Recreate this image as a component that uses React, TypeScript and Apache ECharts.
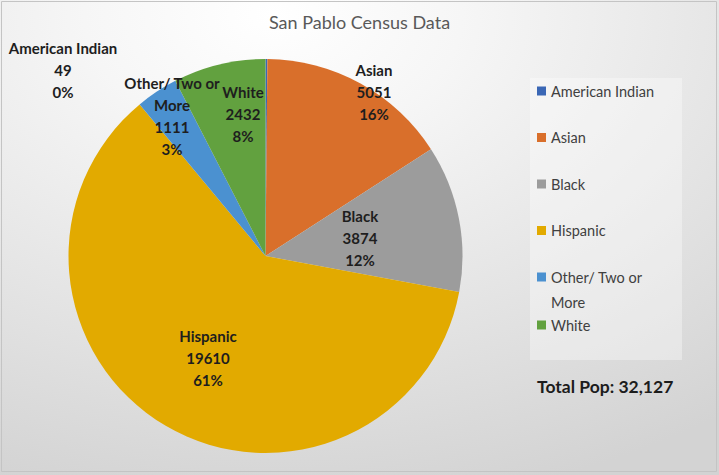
import React, { useEffect, useRef } from "react";
import * as echarts from "echarts";

// ---- data ----
const categories = ["American Indian", "Asian", "Black", "Hispanic", "Other/ Two or More", "White"];
const populations = [49, 5051, 3874, 19610, 1111, 2432];
const chartTitle = "San Pablo Census Data";
const totalLabel = "Total Pop: ";

// ---- styles / layout ----
const sliceColors = ["#3a67b5", "#d96f2b", "#9c9c9c", "#e2aa00", "#4b91d0", "#62a13f"];
const labelCenters = [
  [63, 70],
  [374, 92],
  [360, 238],
  [208, 358],
  [172, 116],
  [243, 114],
];
const FONT = "Lato";
const LEG_LH = 25;

const wrapName = (n: string) => n.replace(" or More", " or\nMore");

export default function App() {
  const ref = useRef<HTMLDivElement>(null);
  useEffect(() => {
    if (!ref.current) return;
    const chart = echarts.init(ref.current, undefined, { renderer: "svg" });
    const total = populations.reduce((a, b) => a + b, 0);
    const legendBase = {
      orient: "vertical" as const,
      left: 537,
      padding: 0,
      icon: "rect",
      itemWidth: 9,
      itemHeight: 9,
      formatter: wrapName,
      textStyle: { fontFamily: FONT, fontSize: 14.5, color: "#404040", lineHeight: LEG_LH },
    };
    chart.setOption({
      animation: false,
      backgroundColor: {
        type: "radial",
        x: 0.38,
        y: 0.03,
        r: 1.05,
        colorStops: [
          { offset: 0, color: "#ffffff" },
          { offset: 0.25, color: "#f6f6f6" },
          { offset: 1, color: "#d3d3d3" },
        ],
      },
      title: [
        {
          text: chartTitle,
          left: "center",
          top: 13,
          padding: 0,
          textStyle: { fontFamily: FONT, fontSize: 18, fontWeight: "normal", color: "#595959" },
        },
        {
          text: totalLabel + total.toLocaleString("en-US"),
          left: 537,
          top: 377,
          padding: 0,
          textStyle: { fontFamily: FONT, fontSize: 17.5, fontWeight: "bold", color: "#1c1c1c" },
        },
      ],
      graphic: [
        {
          type: "rect",
          shape: { x: 530, y: 78, width: 152, height: 282 },
          style: { fill: "rgba(255,255,255,0.35)" },
          silent: true,
          z: -1,
        },
        {
          type: "rect",
          shape: { x: 1.5, y: 1.5, width: 715, height: 470 },
          style: { fill: "none", stroke: "#c4c4c4", lineWidth: 1 },
          silent: true,
        },
      ],
      legend: [
        { ...legendBase, top: 91 - LEG_LH / 2, itemGap: 46.5 - LEG_LH, data: categories.slice(0, 4) },
        {
          ...legendBase,
          top: 277 - LEG_LH * 1.5,
          data: [categories[4]],
          formatter: (n: string) => "\n" + wrapName(n),
        },
        { ...legendBase, top: 325 - LEG_LH / 2, data: [categories[5]] },
      ],
      series: [
        {
          type: "pie",
          center: [265.5, 256],
          radius: [0, 197],
          startAngle: 90,
          clockwise: true,
          percentPrecision: 0,
          avoidLabelOverlap: false,
          itemStyle: { borderWidth: 0 },
          emphasis: { disabled: true },
          labelLine: { show: false },
          label: {
            show: true,
            position: "inside",
            formatter: (p: any) => `${wrapName(p.name)}\n${p.value}\n${p.percent}%`,
            fontFamily: FONT,
            fontSize: 15,
            fontWeight: "bold",
            lineHeight: 22,
            color: "#1e1e1e",
          },
          labelLayout: (p: any) => ({
            x: labelCenters[p.dataIndex][0],
            y: labelCenters[p.dataIndex][1],
            align: "center",
            verticalAlign: "middle",
          }),
          data: categories.map((name, i) => ({
            name,
            value: populations[i],
            itemStyle: { color: sliceColors[i] },
          })),
        },
      ],
    });
    return () => chart.dispose();
  }, []);
  return (
    <div
      ref={ref}
      style={{ position: "absolute", left: 0, top: 0, width: 719, height: 475 }}
    />
  );
}
